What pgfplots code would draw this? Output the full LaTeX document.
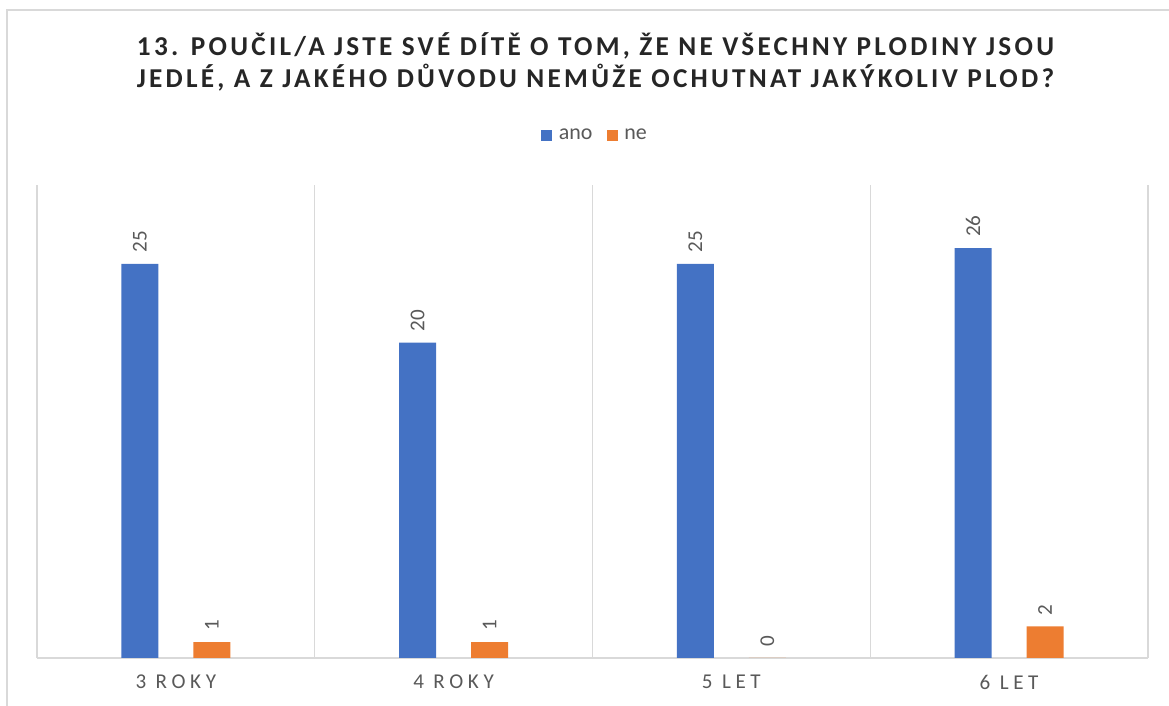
\documentclass[border=0pt]{standalone}
\usepackage{pgfplots}
\pgfplotsset{compat=1.18}
\usepackage{fontspec}
\setmainfont{Carlito}
\newfontfamily\titlefont[LetterSpace=12]{Carlito}
\newfontfamily\tickfont[LetterSpace=22]{Carlito}
\definecolor{anoblue}{HTML}{4472C4}
\definecolor{neorange}{HTML}{ED7D31}
\definecolor{gridgray}{HTML}{D9D9D9}
\definecolor{labgray}{HTML}{595959}

\begin{document}
\begin{tikzpicture}
% 1 px of the reference = 0.02cm
\path[use as bounding box] (0,0) rectangle (23.38cm,14.12cm);
\draw[gridgray, line width=0.8pt] (0.14cm,0) -- (0.14cm,13.92cm) -- (23.38cm,13.92cm);

\node[font=\titlefont\bfseries\fontsize{15.5}{18.5}\selectfont, color=black!85, align=center]
  at (11.91cm,12.88cm) {13. POUČIL/A JSTE SVÉ DÍTĚ O TOM, ŽE NE VŠECHNY PLODINY JSOU\\
  JEDLÉ, A Z JAKÉHO DŮVODU NEMŮŽE OCHUTNAT JAKÝKOLIV PLOD?};

\begin{axis}[
    at={(0.74cm,0.96cm)}, anchor=south west,
    scale only axis,
    width=22.22cm, height=9.46cm,
    ybar=0.7cm, bar width=0.74cm,
    xmin=-0.5, xmax=3.5, ymin=0, ymax=30,
    xtick={0,1,2,3},
    xticklabels={3 ROKY, 4 ROKY, 5 LET, 6 LET},
    minor xtick={-0.5,0.5,1.5,2.5,3.5},
    xminorgrids=true,
    minor grid style={gridgray, line width=0.8pt},
    major tick length=0pt, minor tick length=0pt,
    axis x line=bottom, axis y line=none,
    x axis line style={gridgray, line width=0.8pt, -},
    ytick=\empty,
    /pgf/number format/assume math mode=true,
    xticklabel style={font=\tickfont\fontsize{12}{14}\selectfont, text=labgray, yshift=-0.22cm},
    nodes near coords,
    nodes near coords style={rotate=90, anchor=west, font=\fontsize{12}{13}\selectfont, text=labgray, inner sep=0.22cm},
    legend columns=2,
    legend style={at={(0.503,1.105)}, anchor=center, draw=none, fill=none,
        font=\fontsize{12.5}{14}\selectfont, text=labgray,
        /tikz/every odd column/.append style={column sep=0.06cm},
        /tikz/every even column/.append style={column sep=0.22cm}},
    legend image code/.code={\fill[#1] (0cm,-0.11cm) rectangle (0.22cm,0.11cm);},
]
\addplot[fill=anoblue, draw=none] coordinates {(0,25) (1,20) (2,25) (3,26)};
\addplot[fill=neorange, draw=none] coordinates {(0,1) (1,1) (2,0) (3,2)};
\legend{ano, ne}
\end{axis}
\end{tikzpicture}
\end{document}
